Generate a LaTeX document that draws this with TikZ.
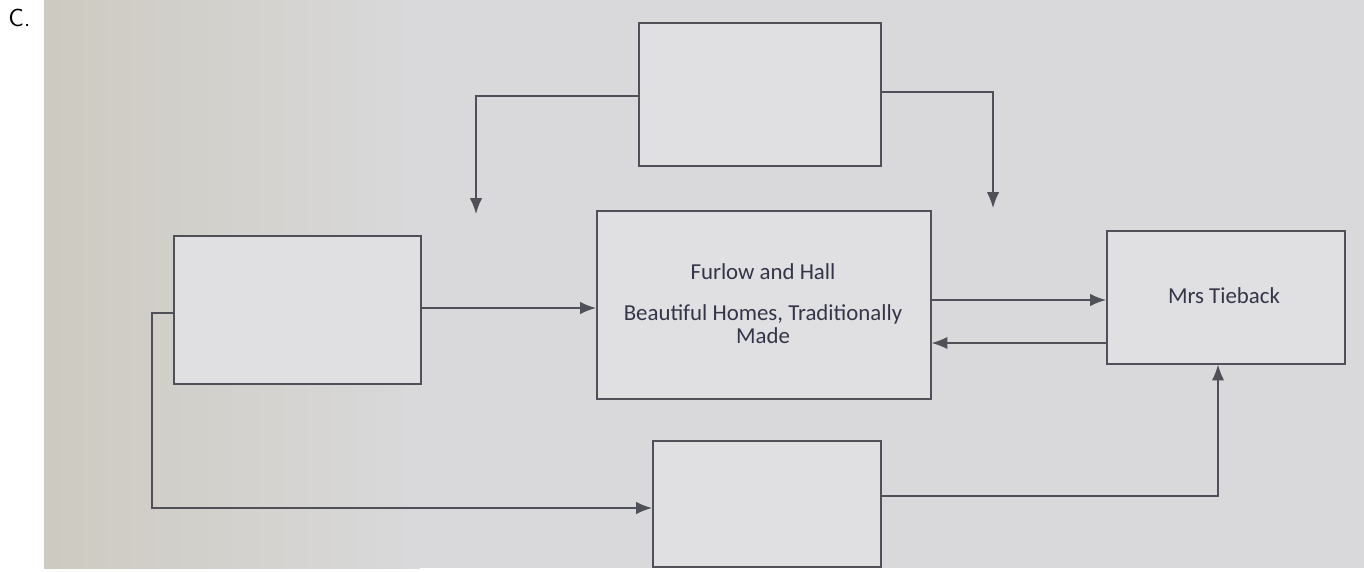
\documentclass[tikz,border=0pt]{standalone}
\usepackage{fontspec}
\setmainfont{Carlito}
\usetikzlibrary{arrows.meta}
\definecolor{bg}{HTML}{D9D9DB}
\definecolor{bgdark}{HTML}{CDCAC0}
\definecolor{boxfill}{HTML}{E0E0E2}
\definecolor{ln}{HTML}{505058}
\definecolor{txt}{HTML}{35354A}
\tikzset{
  blk/.style={draw=ln, line width=0.9pt, fill=boxfill, inner sep=0pt, anchor=north west},
  conn/.style={draw=ln, line width=0.8pt, -{Latex[length=9pt,width=7pt]}},
  lbl/.style={text=txt, font=\fontsize{13}{13}\selectfont, align=center}
}
\begin{document}
\begin{tikzpicture}[x=0.02cm,y=-0.02cm]
\useasboundingbox (0,0) rectangle (1364,571);
\fill[white] (0,0) rectangle (1364,571);
\fill[bg] (44,0) rectangle (1364,568);
\shade[left color=bgdark, right color=bg] (44,0) rectangle (420,568);
\node[anchor=north west, inner sep=0pt, font=\fontsize{14}{16}\selectfont\sffamily] (c) at (8,9) {C.};
% boxes
\node[blk, minimum width=242*0.02cm, minimum height=143*0.02cm] (top) at (638,22) {};
\node[blk, minimum width=334*0.02cm, minimum height=188*0.02cm] (ctr) at (596,210) {};
\node[blk, minimum width=247*0.02cm, minimum height=148*0.02cm] (lft) at (173,235) {};
\node[blk, minimum width=238*0.02cm, minimum height=133*0.02cm] (rgt) at (1106,230) {};
\node[blk, minimum width=228*0.02cm, minimum height=126*0.02cm] (bot) at (652,440) {};
% texts
\node[lbl] (t1) at (763,272) {Furlow and Hall};
\node[lbl] (t2) at (763,324) {Beautiful Homes, Traditionally\\Made};
\node[lbl] (t3) at (1224,296) {Mrs Tieback};
% free ends
\coordinate (fl) at (476,214);
\coordinate (fr) at (993,208);
% connectors
\draw[conn] (top.west |- 0,96) -| (fl);
\draw[conn] (top.east |- 0,92) -| (fr);
\draw[conn] (lft.east |- 0,308) -- (ctr.west |- 0,308);
\draw[conn] (ctr.east |- 0,300) -- (rgt.west |- 0,300);
\draw[conn] (rgt.west |- 0,343) -- (ctr.east |- 0,343);
\draw[conn] (lft.west |- 0,313) -- (152,313) -- (152,508) -- (bot.west |- 0,508);
\draw[conn] (bot.east |- 0,496) -| (rgt.south -| 1218,0);
\end{tikzpicture}
\end{document}
